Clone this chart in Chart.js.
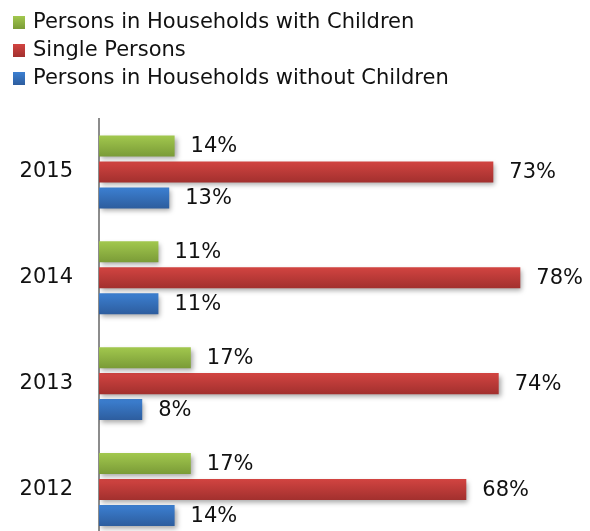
<!DOCTYPE html>
<html>
<head>
<meta charset="utf-8">
<script src="https://cdn.jsdelivr.net/npm/chart.js@4.4.1/dist/chart.umd.min.js"></script>
<style>
  html, body { margin: 0; padding: 0; background: #fff; overflow: hidden; }
  #wrap { position: relative; width: 590px; height: 531px; }
  #legend { position: absolute; left: 13px; top: 7px; font-family: "DejaVu Sans", sans-serif; font-size: 21px; color: #111; }
  #legend div { height: 28px; line-height: 28px; white-space: nowrap; }
  #legend span { display: inline-block; width: 12px; height: 13px; margin-right: 8px; vertical-align: -1px; }
  canvas { position: absolute; left: 0; top: 0; }
</style>
</head>
<body>
<div id="wrap">
  <canvas id="chart" width="590" height="581" style="width:590px;height:581px"></canvas>
  <div id="legend"></div>
</div>
<script>
const years = ["2015", "2014", "2013", "2012"];
const withChildren = [14, 11, 17, 17];
const singlePersons = [73, 78, 74, 68];
const withoutChildren = [13, 11, 8, 14];

const seriesNames = [
  "Persons in Households with Children",
  "Single Persons",
  "Persons in Households without Children"
];
// [top, bottom] gradient colours
const seriesColors = [
  ["#a2c84e", "#7a9b37"],
  ["#d24441", "#a2302e"],
  ["#3c80d2", "#2d5d9e"]
];

const CAT_PCT = 0.736;
const BAR_PCT = 0.81;
const FONT = "'DejaVu Sans', sans-serif";

// vertical gradient for each bar, found from the category scale
const barFill = (dsIndex) => ctx => {
  const chart = ctx.chart;
  const y = chart.scales.y;
  const cols = seriesColors[dsIndex];
  if (!y || ctx.dataIndex == null) return cols[0];
  const catH = (y.bottom - y.top) / years.length;
  const slot = catH * CAT_PCT / 3;
  const mid = y.getPixelForValue(ctx.dataIndex) + (dsIndex - 1) * slot;
  const h = slot * BAR_PCT;
  if (!isFinite(mid) || !isFinite(h)) return cols[0];
  const g = chart.ctx.createLinearGradient(0, mid - h / 2, 0, mid + h / 2);
  g.addColorStop(0, cols[0]);
  g.addColorStop(1, cols[1]);
  return g;
};

const shadowPlugin = {
  id: "barShadow",
  beforeDatasetsDraw: chart => {
    const c = chart.ctx;
    c.save();
    c.shadowColor = "rgba(0,0,0,0.35)";
    c.shadowBlur = 5;
    c.shadowOffsetX = 2;
    c.shadowOffsetY = 3;
  },
  afterDatasetsDraw: chart => {
    chart.ctx.restore();
  }
};

const valueLabels = {
  id: "valueLabels",
  afterDatasetsDraw: chart => {
    const c = chart.ctx;
    c.save();
    c.font = "21px " + FONT;
    c.fillStyle = "#111";
    c.textBaseline = "middle";
    c.textAlign = "left";
    chart.data.datasets.forEach((ds, i) => {
      chart.getDatasetMeta(i).data.forEach((bar, j) => {
        c.fillText(ds.data[j] + "%", bar.x + 16, bar.y + 1);
      });
    });
    c.restore();
  }
};

const datasets = [withChildren, singlePersons, withoutChildren].map((d, i) => ({
  label: seriesNames[i],
  data: d,
  backgroundColor: barFill(i),
  categoryPercentage: CAT_PCT,
  barPercentage: BAR_PCT
}));

new Chart(document.getElementById("chart"), {
  type: "bar",
  data: { labels: years, datasets },
  options: {
    indexAxis: "y",
    responsive: false,
    maintainAspectRatio: false,
    animation: false,
    layout: { padding: { top: 119, bottom: 0, left: 0, right: 0 } },
    plugins: { legend: { display: false }, tooltip: { enabled: false } },
    scales: {
      x: { display: false, min: 0, max: 90.9 },
      y: {
        afterFit: s => { s.width = 99; },
        grid: { display: false, drawTicks: false },
        border: { display: true, color: "#8c8c8c", width: 2 },
        ticks: { color: "#111", padding: 26, font: { family: FONT, size: 21 } }
      }
    }
  },
  plugins: [shadowPlugin, valueLabels]
});

const legend = document.getElementById("legend");
seriesNames.forEach((name, i) => {
  const row = document.createElement("div");
  const box = document.createElement("span");
  box.style.background = "linear-gradient(" + seriesColors[i][0] + ", " + seriesColors[i][1] + ")";
  row.appendChild(box);
  row.appendChild(document.createTextNode(name));
  legend.appendChild(row);
});
</script>
</body>
</html>
